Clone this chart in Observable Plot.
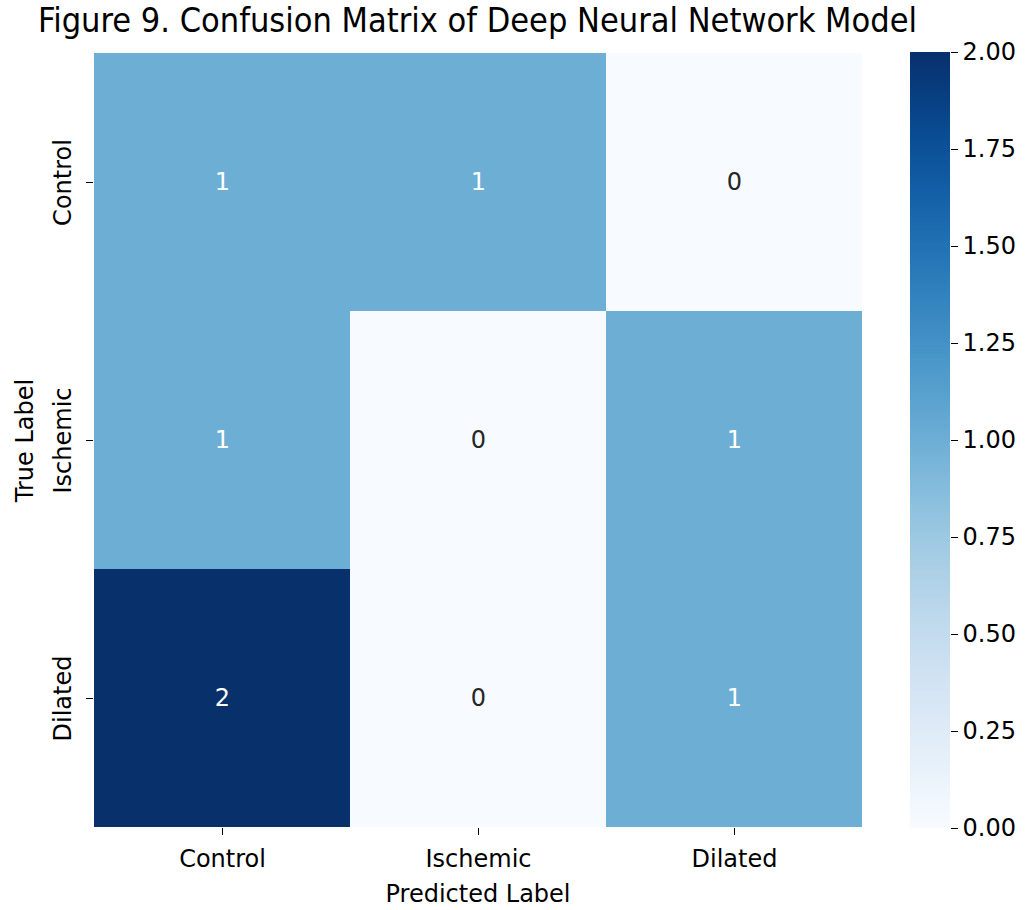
<!DOCTYPE html>
<html>
<head>
<meta charset="utf-8">
<script src="https://cdn.jsdelivr.net/npm/d3@7"></script>
<script src="https://cdn.jsdelivr.net/npm/@observablehq/plot@0.6"></script>
<style>
  html, body { margin: 0; padding: 0; background: #fff; }
  #wrap { position: relative; width: 1025px; height: 910px; overflow: hidden; }
  #title { position: absolute; left: 0; top: 0px; width: 955px; text-align: center;
           font-family: "DejaVu Sans Condensed", "DejaVu Sans", sans-serif; font-size: 34px; color: #000; white-space: nowrap; }
  #main { position: absolute; left: 0; top: 0; }
  #cbar { position: absolute; left: 900px; top: 0; }
</style>
</head>
<body>
<div id="wrap">
  <div id="main"></div>
  <div id="cbar"></div>
  <div id="title">Figure 9. Confusion Matrix of Deep Neural Network Model</div>
</div>
<script>
const predictedLabels = ["Control", "Ischemic", "Dilated"];
const trueLabels = ["Control", "Ischemic", "Dilated"];
const matrixRows = [
  [1, 1, 0],
  [1, 0, 1],
  [2, 0, 1]
];
const colorTicks = [0, 0.25, 0.5, 0.75, 1.0, 1.25, 1.5, 1.75, 2.0];
const colorDomain = [0, 2];

const cells = [];
trueLabels.forEach((t, i) => predictedLabels.forEach((p, j) => cells.push({t, p, v: matrixRows[i][j]})));

const font = "DejaVu Sans, sans-serif";
const colorOpts = {type: "linear", domain: colorDomain, interpolate: d3.interpolateBlues};

const main = Plot.plot({
  width: 880, height: 910,
  marginLeft: 93, marginRight: 18, marginTop: 52, marginBottom: 82,
  style: {fontFamily: font, fontSize: "24px", color: "#000", background: "transparent"},
  x: {type: "band", domain: predictedLabels, padding: 0},
  y: {type: "band", domain: trueLabels, padding: 0},
  color: colorOpts,
  marks: [
    Plot.cell(cells, {x: "p", y: "t", fill: "v"}),
    Plot.text(cells, {x: "p", y: "t", text: d => String(d.v), fontSize: 24,
      fill: d => d.v > 0.5 ? "#ffffff" : "#262626"}),
    Plot.axisX({anchor: "bottom", tickSize: 7, tickPadding: 14, label: "Predicted Label",
      labelAnchor: "center", labelOffset: 73, labelArrow: "none", fontSize: 24}),
    Plot.axisY({anchor: "left", tickSize: 7, tickPadding: 16, tickRotate: -90, label: "True Label",
      labelAnchor: "center", labelOffset: 78, labelArrow: "none", fontSize: 24})
  ]
});
document.getElementById("main").appendChild(main);

const step = 0.005;
const strips = d3.range(0, 2, step).map(v => ({v}));
const cbar = Plot.plot({
  width: 125, height: 910,
  marginLeft: 10, marginRight: 75, marginTop: 52, marginBottom: 82,
  style: {fontFamily: font, fontSize: "24px", color: "#000", background: "transparent"},
  x: {axis: null},
  y: {type: "linear", domain: colorDomain},
  color: colorOpts,
  marks: [
    Plot.rect(strips, {y1: "v", y2: d => Math.min(2, d.v + step * 1.5), fill: "v"}),
    Plot.axisY({anchor: "right", ticks: colorTicks, tickFormat: d3.format(".2f"),
      tickSize: 7, tickPadding: 5, label: null, fontSize: 24})
  ]
});
document.getElementById("cbar").appendChild(cbar);
</script>
</body>
</html>
